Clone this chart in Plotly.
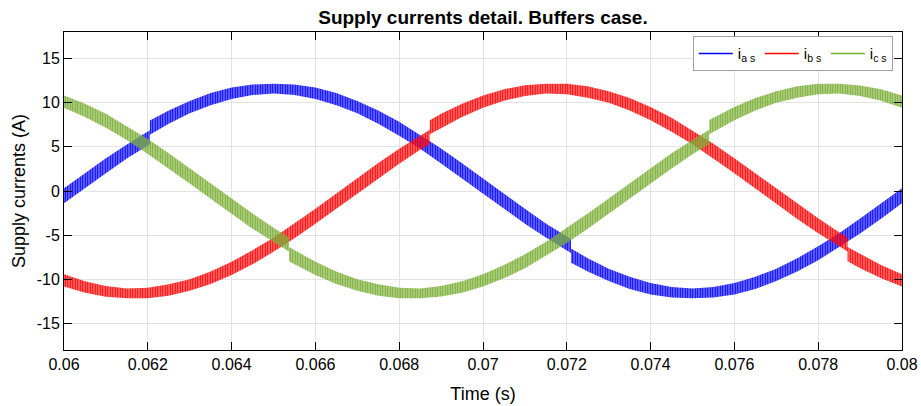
import plotly.graph_objects as go

# ---------------- data ----------------
t0 = 0.06
dt = 0.0005
n_pts = 41
time_s = [round(t0 + k * dt, 6) for k in range(n_pts)]

# centre of each current band (A), sampled every 0.5 ms
i_as = [-0.55, 1.18, 2.86, 4.47, 5.95, 8.36, 9.49, 10.40, 11.06, 11.46,
        11.60, 11.46, 11.06, 10.40, 9.49, 8.36, 7.05, 5.57, 3.96, 2.28,
        0.55, -1.18, -2.86, -4.47, -5.95, -8.36, -9.49, -10.40, -11.06, -11.46,
        -11.60, -11.46, -11.06, -10.40, -9.49, -8.36, -7.05, -5.57, -3.96, -2.28,
        -0.55]
i_bs = [-10.12, -10.87, -11.36, -11.58, -11.54, -11.22, -10.64, -9.82, -8.76, -7.50,
        -6.08, -4.51, -2.85, -1.13, 0.60, 2.31, 3.94, 5.47, 7.94, 9.14,
        10.12, 10.87, 11.36, 11.58, 11.54, 11.22, 10.64, 9.82, 8.76, 7.50,
        6.08, 4.51, 2.85, 1.13, -0.60, -2.31, -3.94, -5.47, -7.94, -9.14,
        -10.12]
i_cs = [10.12, 9.14, 7.95, 6.56, 5.05, 3.41, 1.70, -0.03, -1.75, -3.41,
        -4.97, -7.50, -8.76, -9.82, -10.64, -11.22, -11.54, -11.59, -11.35, -10.87,
        -10.12, -9.14, -7.95, -6.56, -5.05, -3.41, -1.70, 0.03, 1.75, 3.41,
        4.97, 7.50, 8.76, 9.82, 10.64, 11.22, 11.54, 11.59, 11.35, 10.87,
        10.12]

# vertical thickness of the switching-ripple band (A)
w_as = [1.7, 1.7, 1.7, 1.6, 1.6, 1.5, 1.4, 1.4, 1.3, 1.2,
        1.1, 1.2, 1.3, 1.4, 1.4, 1.5, 1.6, 1.6, 1.7, 1.7,
        1.7, 1.7, 1.7, 1.6, 1.6, 1.5, 1.4, 1.4, 1.3, 1.2,
        1.1, 1.2, 1.3, 1.4, 1.4, 1.5, 1.6, 1.6, 1.7, 1.7,
        1.7]
w_bs = [1.4, 1.3, 1.2, 1.1, 1.2, 1.3, 1.3, 1.4, 1.5, 1.6,
        1.6, 1.7, 1.7, 1.7, 1.7, 1.7, 1.7, 1.6, 1.6, 1.5,
        1.4, 1.3, 1.2, 1.1, 1.2, 1.3, 1.3, 1.4, 1.5, 1.6,
        1.6, 1.7, 1.7, 1.7, 1.7, 1.7, 1.7, 1.6, 1.6, 1.5,
        1.4]
w_cs = [1.4, 1.5, 1.6, 1.6, 1.7, 1.7, 1.7, 1.7, 1.7, 1.7,
        1.6, 1.6, 1.5, 1.4, 1.3, 1.3, 1.2, 1.1, 1.2, 1.3,
        1.4, 1.5, 1.6, 1.6, 1.7, 1.7, 1.7, 1.7, 1.7, 1.7,
        1.6, 1.6, 1.5, 1.4, 1.3, 1.3, 1.2, 1.1, 1.2, 1.3,
        1.4]

# small current steps (time s, value just before, value just after)
steps_as = [(0.06205, 6.08, 7.18), (0.0721, -6.22, -7.32)]
steps_bs = [(0.06873, 6.12, 7.22), (0.0787, -6.04, -7.14)]
steps_cs = [(0.06537, -6.05, -7.15), (0.0754, 6.13, 7.23)]

names = ["i<sub>a s</sub>", "i<sub>b s</sub>", "i<sub>c s</sub>"]
line_colors = ["#0000ff", "#ff0000", "#77ac30"]
band_colors = ["rgba(0,0,255,0.58)", "rgba(255,0,0,0.58)", "rgba(119,172,48,0.58)"]

x_ticks = [0.06, 0.062, 0.064, 0.066, 0.068, 0.07, 0.072, 0.074, 0.076, 0.078, 0.08]
x_ticktext = ["0.06", "0.062", "0.064", "0.066", "0.068", "0.07", "0.072", "0.074", "0.076", "0.078", "0.08"]
y_ticks = [-15, -10, -5, 0, 5, 10, 15]
y_ticktext = ["-15", "-10", "-5", "0", "5", "10", "15"]


def build(center, width, steps):
    pts = [(time_s[k], center[k], width[k], 0) for k in range(n_pts)]
    for (ts, vb, va) in steps:
        k = int((ts - t0) / dt + 1e-9)
        pts.append((ts, vb, width[k], 1))
        pts.append((ts, va, width[k], 2))
    pts.sort(key=lambda p: (p[0], p[3]))
    xs = [p[0] for p in pts]
    up = [p[1] + p[2] / 2 for p in pts]
    lo = [p[1] - p[2] / 2 for p in pts]
    return xs, up, lo


fig = go.Figure()
series = [(i_as, w_as, steps_as), (i_bs, w_bs, steps_bs), (i_cs, w_cs, steps_cs)]
for j, (c, w, s) in enumerate(series):
    xs, up, lo = build(c, w, s)
    fig.add_trace(go.Scatter(x=xs, y=up, mode="lines", line=dict(width=0),
                             showlegend=False, hoverinfo="skip"))
    fig.add_trace(go.Scatter(x=xs, y=lo, mode="lines", line=dict(width=0),
                             fill="tonexty",
                             fillpattern=dict(shape="|", size=2.5, solidity=0.4,
                                              fgcolor=line_colors[j],
                                              bgcolor=band_colors[j],
                                              fillmode="replace"),
                             showlegend=False, hoverinfo="skip"))

for j in range(3):
    fig.add_trace(go.Scatter(x=[None], y=[None], mode="lines",
                             line=dict(color=line_colors[j], width=1.5),
                             name=names[j]))

font_family = "Liberation Sans, Arial, sans-serif"
axis_common = dict(showline=True, linecolor="black", linewidth=1, mirror="ticks",
                   ticks="inside", ticklen=8, tickcolor="black", tickwidth=1,
                   showgrid=True, gridcolor="#e3e3e3", gridwidth=1, zeroline=False,
                   automargin=False,
                   tickfont=dict(family=font_family, size=16, color="black"))

fig.update_layout(
    width=921, height=406,
    margin=dict(l=64, r=19, t=32, b=56),
    paper_bgcolor="white", plot_bgcolor="white",
    title=dict(text="<b>Supply currents detail. Buffers case.</b>",
               x=0.5244, xanchor="center", y=1 - 17 / 406, yanchor="middle",
               font=dict(family=font_family, size=19, color="black")),
    xaxis=dict(range=[0.06, 0.08], tickvals=x_ticks, ticktext=x_ticktext,
               title=dict(text="Time (s)", font=dict(family=font_family, size=18, color="black"),
                          standoff=15),
               **axis_common),
    yaxis=dict(range=[-18, 18], tickvals=y_ticks, ticktext=y_ticktext,
               title=dict(text="Supply currents (A)", font=dict(family=font_family, size=18, color="black"),
                          standoff=6),
               **axis_common),
    legend=dict(orientation="h", x=0.989, xanchor="right", y=0.987, yanchor="top",
                bgcolor="white", bordercolor="#a0a0a0", borderwidth=1,
                font=dict(family=font_family, size=15, color="black"),
                itemwidth=34, entrywidth=17, entrywidthmode="pixels",
                traceorder="normal", tracegroupgap=0),
    hovermode=False,
)

fig.write_html("out.html")
